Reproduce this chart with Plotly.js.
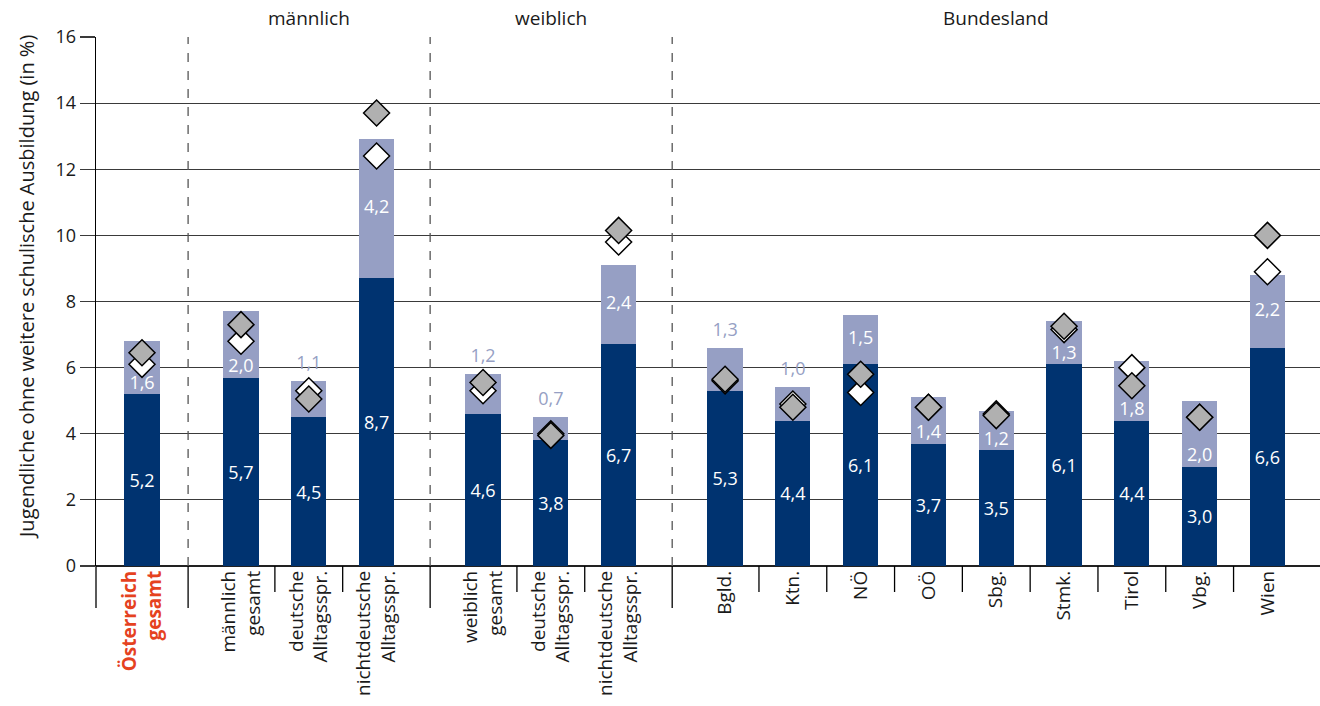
<!DOCTYPE html>
<html>
<head>
<meta charset="utf-8">
<script src="https://cdn.plot.ly/plotly-3.0.1.min.js"></script>
<style>html,body{margin:0;padding:0;background:#fff;}#chart{width:1320px;height:706px;}</style>
</head>
<body>
<div id="chart"></div>
<script>
// ---- data ----
const groupNames = ['', 'männlich', 'weiblich', 'Bundesland'];
const groupSizes = [1, 3, 3, 9];
const categories = ['Österreich<br>gesamt', 'männlich<br>gesamt', 'deutsche<br>Alltagsspr.', 'nichtdeutsche<br>Alltagsspr.',
  'weiblich<br>gesamt', 'deutsche<br>Alltagsspr.', 'nichtdeutsche<br>Alltagsspr.',
  'Bgld.', 'Ktn.', 'NÖ', 'OÖ', 'Sbg.', 'Stmk.', 'Tirol', 'Vbg.', 'Wien'];
const darkValues = [5.2, 5.7, 4.5, 8.7, 4.6, 3.8, 6.7, 5.3, 4.4, 6.1, 3.7, 3.5, 6.1, 4.4, 3.0, 6.6];
const lightValues = [1.6, 2.0, 1.1, 4.2, 1.2, 0.7, 2.4, 1.3, 1.0, 1.5, 1.4, 1.2, 1.3, 1.8, 2.0, 2.2];
const whiteDiamond = [6.1, 6.8, 5.3, 12.4, 5.3, 4.0, 9.8, 5.6, 4.9, 5.25, 4.8, 4.6, 7.15, 6.0, 4.5, 8.9];
const grayDiamond = [6.45, 7.3, 5.05, 13.7, 5.55, 3.95, 10.15, 5.65, 4.8, 5.8, 4.8, 4.55, 7.25, 5.45, 4.5, 10.0];
const yTicks = [0, 2, 4, 6, 8, 10, 12, 14, 16];
const yTitle = 'Jugendliche ohne weitere schulische Ausbildung (in %)';
// label placement for light segment values: low / mid / above
const lightLabelPlace = ['low','low','above','mid','above','above','mid','above','above','mid','low','low','low','low','low','mid'];

// ---- layout constants ----
const FONT = '"Open Sans", "Noto Sans", sans-serif';
const DARK = '#003370', LIGHT = '#969fc4', RED = '#e5421f', GRID = '#3a3a3a', TXT = '#1a1a1a';
const groupGaps = [1.46, 1.57, 1.57];
const sepOffset = 0.78;
const xRange = [-0.6785, 17.375];
const plotW = 1224, plotH = 529;

// positions computed from group structure
const pos = [];
const groupFirst = [];
let cur = 0;
groupSizes.forEach((n, g) => {
  if (g > 0) cur += groupGaps[g - 1] - 1;
  groupFirst.push(cur);
  for (let i = 0; i < n; i++) { pos.push(cur); cur += 1; }
});

const fmt = v => v.toFixed(1).replace('.', ',');
const tickText = categories.map((c, i) => i === 0
  ? c.split('<br>').map(s => `<span style="color:${RED};font-weight:bold">${s}</span>`).join('<br>')
  : c);

const totals = darkValues.map((d, i) => d + lightValues[i]);
const lightLabelY = lightValues.map((l, i) => {
  const p = lightLabelPlace[i];
  if (p === 'mid') return darkValues[i] + l / 2;
  if (p === 'low') return darkValues[i] + 0.3;
  return totals[i] + 0.5;
});
const lightLabelColor = lightLabelPlace.map(p => p === 'above' ? LIGHT : '#ffffff');

const traces = [
  { type: 'bar', x: pos, y: darkValues, width: 0.52, marker: { color: DARK },
    text: darkValues.map(fmt), textposition: 'inside', insidetextanchor: 'middle',
    textfont: { color: '#ffffff', size: 18, family: FONT }, constraintext: 'none', hoverinfo: 'skip' },
  { type: 'bar', x: pos, y: lightValues, width: 0.52, marker: { color: LIGHT }, hoverinfo: 'skip' },
  { type: 'scatter', mode: 'text', x: pos, y: lightLabelY, text: lightValues.map(fmt),
    textposition: 'middle center', textfont: { color: lightLabelColor, size: 18, family: FONT },
    cliponaxis: false, hoverinfo: 'skip' },
  { type: 'scatter', mode: 'markers', x: pos, y: whiteDiamond,
    marker: { symbol: 'diamond', size: 20, color: '#ffffff', line: { color: '#000', width: 1.5 } }, hoverinfo: 'skip' },
  { type: 'scatter', mode: 'markers', x: pos, y: grayDiamond,
    marker: { symbol: 'diamond', size: 20, color: '#b0b0b0', line: { color: '#000', width: 1.5 } }, hoverinfo: 'skip' }
];

// shapes: separators and ticks
const shapes = [];
const longTick = -42 / plotH, shortTick = -26 / plotH;
shapes.push({ type: 'line', xref: 'paper', yref: 'paper', x0: 0, x1: 0, y0: 0, y1: longTick, line: { color: '#000', width: 1.3 } });
for (let g = 1; g < groupSizes.length; g++) {
  const sx = groupFirst[g] - sepOffset;
  shapes.push({ type: 'line', xref: 'x', yref: 'y', x0: sx, x1: sx, y0: 0, y1: 16, line: { color: '#555', width: 1.3, dash: 'dash' } });
  shapes.push({ type: 'line', xref: 'x', yref: 'paper', x0: sx, x1: sx, y0: 0, y1: longTick, line: { color: '#000', width: 1.3 } });
}
let k = 0;
groupSizes.forEach(n => {
  for (let i = 0; i < n - 1; i++) {
    const mx = (pos[k + i] + pos[k + i + 1]) / 2;
    shapes.push({ type: 'line', xref: 'x', yref: 'paper', x0: mx, x1: mx, y0: 0, y1: shortTick, line: { color: '#000', width: 1.3 } });
  }
  k += n;
});

const annotations = [];
k = 0;
groupSizes.forEach((n, g) => {
  if (groupNames[g]) {
    const cx = (pos[k] + pos[k + n - 1]) / 2;
    annotations.push({ x: cx, xref: 'x', y: 1 + 19 / plotH, yref: 'paper', text: groupNames[g], showarrow: false,
      font: { size: 19, color: TXT, family: FONT }, yanchor: 'middle' });
  }
  k += n;
});
// y-axis title as rotated annotation
annotations.push({ x: -70 / plotW, xref: 'paper', y: (566 - 287) / plotH, yref: 'paper', text: yTitle, textangle: -90,
  showarrow: false, xanchor: 'center', yanchor: 'middle', font: { size: 20, color: TXT, family: FONT } });

const layout = {
  width: 1320, height: 706,
  margin: { l: 96, r: 0, t: 37, b: 140 },
  paper_bgcolor: '#fff', plot_bgcolor: '#fff',
  barmode: 'stack', showlegend: false, separators: ',.',
  font: { family: FONT, size: 18, color: TXT },
  xaxis: { range: xRange, tickvals: pos, ticktext: tickText, tickangle: -90, ticks: '', showgrid: false,
    zeroline: false, showline: false, tickfont: { size: 19, color: TXT, family: FONT }, fixedrange: true },
  yaxis: { range: [0, 16], tickvals: yTicks, ticks: 'outside', ticklen: 15, tickcolor: GRID, tickwidth: 1.2,
    showgrid: true, gridcolor: GRID, gridwidth: 1.2, zeroline: true, zerolinecolor: '#222', zerolinewidth: 1.3,
    showline: true, linecolor: '#000', linewidth: 1.3,
    tickfont: { size: 18, color: TXT, family: FONT }, automargin: false },
  shapes: shapes, annotations: annotations
};

Plotly.newPlot('chart', traces, layout, { displayModeBar: false, staticPlot: true });
</script>
</body>
</html>
